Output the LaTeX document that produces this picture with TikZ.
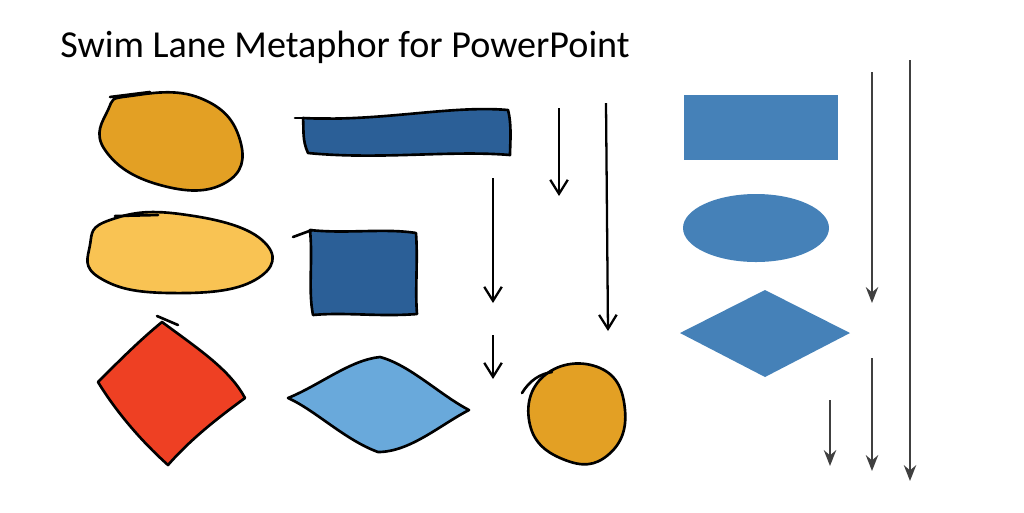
\documentclass[tikz,border=0pt]{standalone}
\usepackage{fontspec}
\setmainfont{Carlito}
\usetikzlibrary{arrows.meta}
\definecolor{org}{HTML}{E3A024}
\definecolor{yel}{HTML}{F9C353}
\definecolor{rd}{HTML}{EE4023}
\definecolor{db}{HTML}{2B5F97}
\definecolor{lb}{HTML}{69A9DB}
\definecolor{cb}{HTML}{4581B8}
\definecolor{gr}{HTML}{404040}
\begin{document}
\begin{tikzpicture}[x=0.02cm,y=-0.02cm,
 sk/.style={draw=black,line width=1.5pt,line join=round,line cap=round},
 harrow/.style={draw=black,line width=1.3pt,-{Straight Barb[length=8pt,width=10pt]}},
 garrow/.style={draw=gr,line width=1.3pt,-{Stealth[length=9pt,width=7pt]}}]
\useasboundingbox (0,0) rectangle (1024,512);
\node[anchor=west,inner sep=0,font=\fontsize{21.7pt}{24pt}\selectfont] (title) at (60,47) {Swim Lane Metaphor for PowerPoint};
% sketchy shapes
\path[sk,fill=org] plot[smooth cycle,tension=0.8] coordinates {(130,96) (200,98) (240,140) (225,183) (160,185) (105,150) (108,110)};
\draw[sk] (110,97) -- (150,92);
\path[sk,fill=yel] plot[smooth cycle,tension=0.8] coordinates {(110,220) (180,214) (262,240) (255,280) (170,293) (100,278) (90,245)};
\draw[sk] (115,216) -- (158,215);
\path[sk,fill=rd] (162,322) .. controls (200,350) and (230,370) .. (245,398) .. controls (215,420) and (190,440) .. (168,465) .. controls (140,440) and (115,410) .. (98,382) .. controls (120,360) and (140,340) .. (162,322) -- cycle;
\draw[sk] (157,316) -- (178,325);
\path[sk,fill=db] (303,118) .. controls (380,122) and (450,105) .. (508,110) .. controls (512,125) and (510,145) .. (510,155) .. controls (450,150) and (380,160) .. (308,153) .. controls (302,140) and (304,130) .. (303,118) -- cycle;
\draw[sk] (295,118) -- (330,118);
\path[sk,fill=db] (310,230) .. controls (345,234) and (385,228) .. (416,233) .. controls (418,260) and (415,290) .. (417,314) .. controls (380,317) and (345,312) .. (313,315) .. controls (308,290) and (313,260) .. (310,230) -- cycle;
\draw[sk] (293,237) -- (312,230);
\path[sk,fill=lb] (288,398) .. controls (320,385) and (350,360) .. (380,357) .. controls (410,365) and (440,395) .. (469,410) .. controls (440,425) and (410,452) .. (378,452) .. controls (345,440) and (315,410) .. (288,398) -- cycle;
\path[sk,fill=org] plot[smooth cycle,tension=0.8] coordinates {(545,375) (600,368) (625,410) (608,455) (565,460) (530,425)};
\draw[sk] (522,393) .. controls (530,380) and (540,374) .. (552,372);
% hand arrows
\coordinate (h1s) at (559,108); \coordinate (h1e) at (559,196);
\coordinate (h2s) at (493,178); \coordinate (h2e) at (493,303);
\coordinate (h3s) at (606,103); \coordinate (h3e) at (608,331);
\coordinate (h4s) at (493,335); \coordinate (h4e) at (493,379);
\draw[harrow] (h1s) -- (h1e);
\draw[harrow] (h2s) -- (h2e);
\draw[harrow] (h3s) -- (h3e);
\draw[harrow] (h4s) -- (h4e);
% clean shapes
\node[draw=none,fill=cb,minimum width=154*0.02cm,minimum height=65*0.02cm,inner sep=0] (r) at (761,127.5) {};
\fill[cb] (756,228) ellipse [x radius=73, y radius=34];
\fill[cb] (680,333) -- (765,290) -- (850,333) -- (765,377) -- cycle;
% gray arrows
\coordinate (g1s) at (872,72); \coordinate (g1e) at (872,303);
\coordinate (g2s) at (910,60); \coordinate (g2e) at (910,481);
\coordinate (g3s) at (872,358); \coordinate (g3e) at (872,471);
\coordinate (g4s) at (830,400); \coordinate (g4e) at (830,466);
\draw[garrow] (g1s) -- (g1e);
\draw[garrow] (g2s) -- (g2e);
\draw[garrow] (g3s) -- (g3e);
\draw[garrow] (g4s) -- (g4e);
\end{tikzpicture}
\end{document}
